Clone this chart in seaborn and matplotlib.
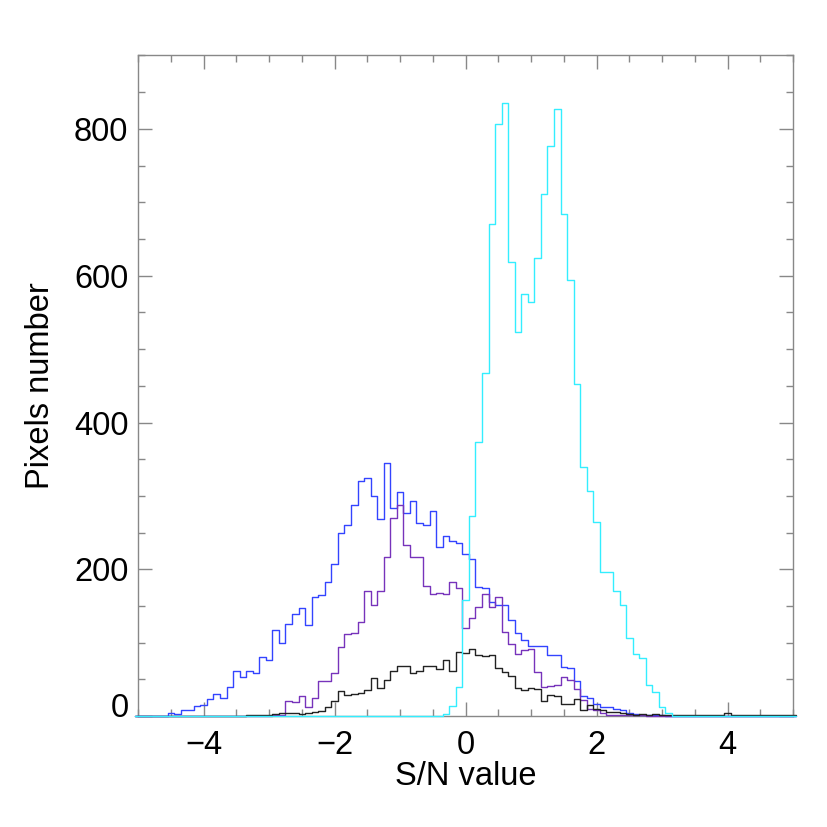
import matplotlib
matplotlib.use("Agg")
import matplotlib.pyplot as plt
import matplotlib.transforms as mtransforms
from matplotlib.ticker import MultipleLocator
import seaborn as sns
import numpy as np
import pandas as pd

# S/N bin centres (bin width 0.1) from -5.0 to 5.0
bin_width = 0.1
sn_centers = np.round(np.arange(-5.0, 5.0001, bin_width), 2)

# pixel counts per bin
blue_counts = [
    0, 0, 0, 0, 0, 5, 3, 9, 8, 14,
    15, 23, 30, 25, 40, 62, 54, 61, 59, 81,
    77, 118, 99, 125, 139, 148, 124, 163, 165, 183,
    207, 250, 260, 288, 321, 325, 300, 269, 345, 283,
    305, 277, 293, 263, 260, 279, 230, 245, 239, 236,
    221, 214, 176, 174, 156, 152, 152, 131, 113, 104,
    95, 95, 95, 83, 83, 67, 66, 48, 27, 25,
    17, 13, 12, 10, 8, 4, 3, 2, 1, 1,
    1, 0, 0, 0, 0, 0, 0, 0, 0, 0,
    0, 0, 0, 0, 0, 0, 0, 0, 0, 0,
    0,
]
purple_counts = [
    0, 0, 0, 0, 0, 0, 0, 0, 0, 0,
    0, 0, 0, 0, 0, 0, 0, 0, 0, 0,
    0, 1, 1, 20, 19, 28, 13, 25, 48, 48,
    59, 94, 112, 113, 128, 170, 152, 171, 217, 270,
    287, 233, 217, 217, 177, 167, 168, 167, 183, 175,
    120, 134, 149, 167, 149, 163, 115, 98, 85, 90,
    91, 60, 40, 41, 42, 54, 49, 37, 22, 10,
    8, 4, 2, 1, 1, 1, 1, 1, 0, 0,
    0, 0, 0, 0, 0, 0, 0, 0, 0, 0,
    0, 0, 0, 0, 0, 0, 0, 0, 0, 0,
    0,
]
black_counts = [
    0, 0, 0, 0, 0, 0, 0, 0, 0, 0,
    0, 0, 0, 0, 0, 0, 0, 1, 1, 2,
    2, 3, 4, 5, 5, 3, 5, 6, 7, 12,
    21, 34, 29, 30, 31, 35, 52, 39, 49, 61,
    69, 69, 59, 62, 69, 69, 64, 76, 61, 88,
    86, 92, 83, 82, 84, 66, 60, 55, 39, 35,
    39, 37, 20, 29, 28, 17, 17, 23, 8, 15,
    10, 9, 6, 6, 4, 3, 2, 3, 2, 3,
    1, 1, 1, 2, 1, 1, 1, 1, 1, 1,
    4, 2, 2, 1, 2, 1, 2, 2, 2, 2,
    1,
]
cyan_counts = [
    0, 0, 0, 0, 0, 0, 0, 0, 0, 0,
    0, 0, 0, 0, 0, 0, 0, 0, 0, 0,
    0, 0, 0, 0, 0, 0, 0, 0, 0, 0,
    0, 0, 0, 0, 0, 0, 0, 0, 0, 0,
    0, 0, 0, 0, 0, 0, 0, 3, 14, 40,
    158, 272, 373, 467, 670, 806, 835, 619, 523, 575,
    564, 624, 711, 777, 827, 684, 594, 452, 339, 307,
    264, 196, 197, 170, 152, 107, 85, 79, 42, 33,
    12, 5, 0, 0, 0, 0, 0, 0, 0, 0,
    0, 0, 0, 0, 0, 0, 0, 0, 0, 0,
    0,
]

series = [
    (blue_counts, "#3344ff"),
    (purple_counts, "#7733bb"),
    (black_counts, "#222222"),
    (cyan_counts, "#33eeff"),
]

sns.set_style("ticks")
plt.rcParams["font.family"] = ["Liberation Sans", "DejaVu Sans"]

fig = plt.figure(figsize=(8.27, 8.27), dpi=100)
ax = fig.add_axes([0.167, 0.134, 0.792, 0.799])

for counts, color in series:
    df = pd.DataFrame({"sn": sn_centers, "n": np.asarray(counts, dtype=float)})
    sns.histplot(data=df, x="sn", weights="n", binwidth=bin_width,
                 binrange=(sn_centers[0] - bin_width / 2,
                           sn_centers[-1] + bin_width / 2),
                 element="step", fill=False, color=color, linewidth=1.0,
                 zorder=3, clip_on=False, ax=ax)

ax.set_xlim(-5, 5)
ax.set_ylim(0, 900)
ax.xaxis.set_major_locator(MultipleLocator(2))
ax.xaxis.set_minor_locator(MultipleLocator(0.5))
ax.yaxis.set_major_locator(MultipleLocator(200))
ax.yaxis.set_minor_locator(MultipleLocator(50))

for side in ["top", "right", "bottom", "left"]:
    ax.spines[side].set_visible(True)
    ax.spines[side].set_color("#888888")
    ax.spines[side].set_linewidth(1.0)

ax.tick_params(which="both", direction="in", top=True, right=True,
               color="#888888", width=1.0, labelsize=23.5, labelcolor="black")
ax.tick_params(which="major", length=10)
ax.tick_params(which="minor", length=5)
ax.tick_params(axis="x", which="major", pad=10)
ax.tick_params(axis="y", which="major", pad=7)

ax.set_xlabel("S/N value", fontsize=23.5, color="black", labelpad=0)
ax.set_ylabel("Pixels number", fontsize=23.5, color="black", labelpad=13)

# the "0" label sits a little above the axis in the original
fig.canvas.draw()
shift = mtransforms.ScaledTranslation(0, 8 / 72, fig.dpi_scale_trans)
for lbl in ax.get_yticklabels():
    if lbl.get_text() in ("0", "\u22120"):
        lbl.set_transform(lbl.get_transform() + shift)

fig.savefig("out.png", dpi=100)
